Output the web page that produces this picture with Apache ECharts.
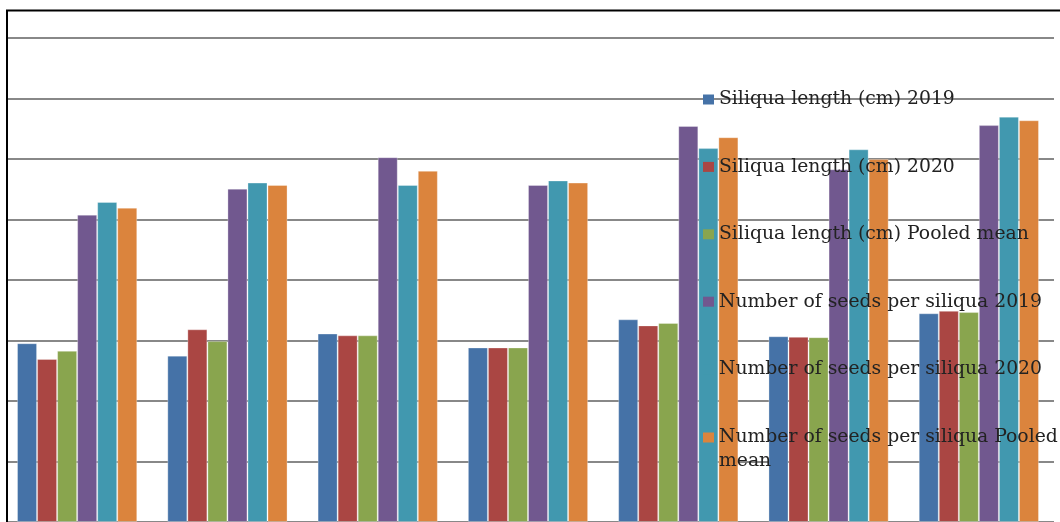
<!DOCTYPE html>
<html>
<head>
<meta charset="utf-8">
<script src="https://cdn.jsdelivr.net/npm/echarts@6/dist/echarts.min.js"></script>
<style>
  html, body { margin: 0; padding: 0; background: #fff; }
  #chart { width: 1060px; height: 522px; }
</style>
</head>
<body>
<div id="chart"></div>
<script>
// Genotype groups (seven entries, unlabeled on the axis)
const categories = ['G1', 'G2', 'G3', 'G4', 'G5', 'G6', 'G7'];

const seriesNames = [
  'Siliqua length (cm) 2019',
  'Siliqua length (cm) 2020',
  'Siliqua length (cm) Pooled mean',
  'Number of seeds per siliqua 2019',
  'Number of seeds per siliqua 2020',
  'Number of seeds per siliqua Pooled mean'
];

const siliquaLength2019   = [5.91, 5.50, 6.23, 5.77, 6.70, 6.14, 6.90];
const siliquaLength2020   = [5.39, 6.37, 6.17, 5.77, 6.50, 6.12, 6.98];
const siliquaLengthPooled = [5.66, 5.98, 6.17, 5.77, 6.58, 6.11, 6.94];
const seeds2019           = [10.16, 11.02, 12.06, 11.14, 13.09, 11.66, 13.12];
const seeds2020           = [10.58, 11.22, 11.14, 11.29, 12.36, 12.32, 13.40];
const seedsPooled         = [10.39, 11.14, 11.61, 11.22, 12.72, 12.00, 13.28];

const seriesValues = [
  siliquaLength2019, siliquaLength2020, siliquaLengthPooled,
  seeds2019, seeds2020, seedsPooled
];

const colors = ['#4572A7', '#AA4643', '#89A54E', '#71588F', '#4198AF', '#DB843D'];

const chart = echarts.init(document.getElementById('chart'), null, { renderer: 'canvas' });

const lastName = seriesNames[seriesNames.length - 1];

const legendText = {
  fontFamily: 'DejaVu Serif',
  fontSize: 18.8,
  lineHeight: 24,
  color: '#222'
};

const legendCommon = {
  orient: 'vertical',
  left: 703,
  height: 500,
  padding: 0,
  itemWidth: 11,
  itemHeight: 10,
  itemGap: 43.4,
  icon: 'rect',
  z: 10,
  itemStyle: { borderWidth: 0 },
  textStyle: legendText
};

chart.setOption({
  animation: false,
  color: colors,
  grid: { left: 2, right: 6, top: 38, bottom: 0, containLabel: false },
  xAxis: {
    type: 'category',
    data: categories,
    axisLine: { show: false },
    axisTick: { show: false },
    axisLabel: { show: false }
  },
  yAxis: {
    type: 'value',
    min: 0,
    max: 16,
    interval: 2,
    axisLine: { show: false },
    axisTick: { show: false },
    axisLabel: { show: false },
    splitLine: { show: true, lineStyle: { color: '#888', width: 2 } }
  },
  legend: [
    Object.assign({}, legendCommon, {
      top: 87.5,
      data: seriesNames.slice(0, 5)
    }),
    // last entry wraps onto a second line; a blank leading line keeps
    // the marker level with the first line of text
    Object.assign({}, legendCommon, {
      top: 401.5,
      data: [lastName],
      formatter: function () { return '\nNumber of seeds per siliqua Pooled\nmean'; }
    })
  ],
  graphic: [
    // white strip left of the frame
    { type: 'rect', left: 0, top: 0, shape: { x: 0, y: 0, width: 6, height: 522 },
      style: { fill: '#fff' }, z: 50 },
    // frame: top and left edges
    { type: 'line', shape: { x1: 6, y1: 10.5, x2: 1060, y2: 10.5 },
      style: { stroke: '#000', lineWidth: 2 }, z: 60 },
    { type: 'line', shape: { x1: 7, y1: 10, x2: 7, y2: 522 },
      style: { stroke: '#000', lineWidth: 2 }, z: 60 }
  ],
  series: seriesNames.map(function (name, i) {
    return {
      name: name,
      type: 'bar',
      data: seriesValues[i],
      barGap: '0%',
      barCategoryGap: '20%',
      itemStyle: { borderColor: 'rgba(255,255,255,0.3)', borderWidth: 1 }
    };
  })
});
</script>
</body>
</html>
